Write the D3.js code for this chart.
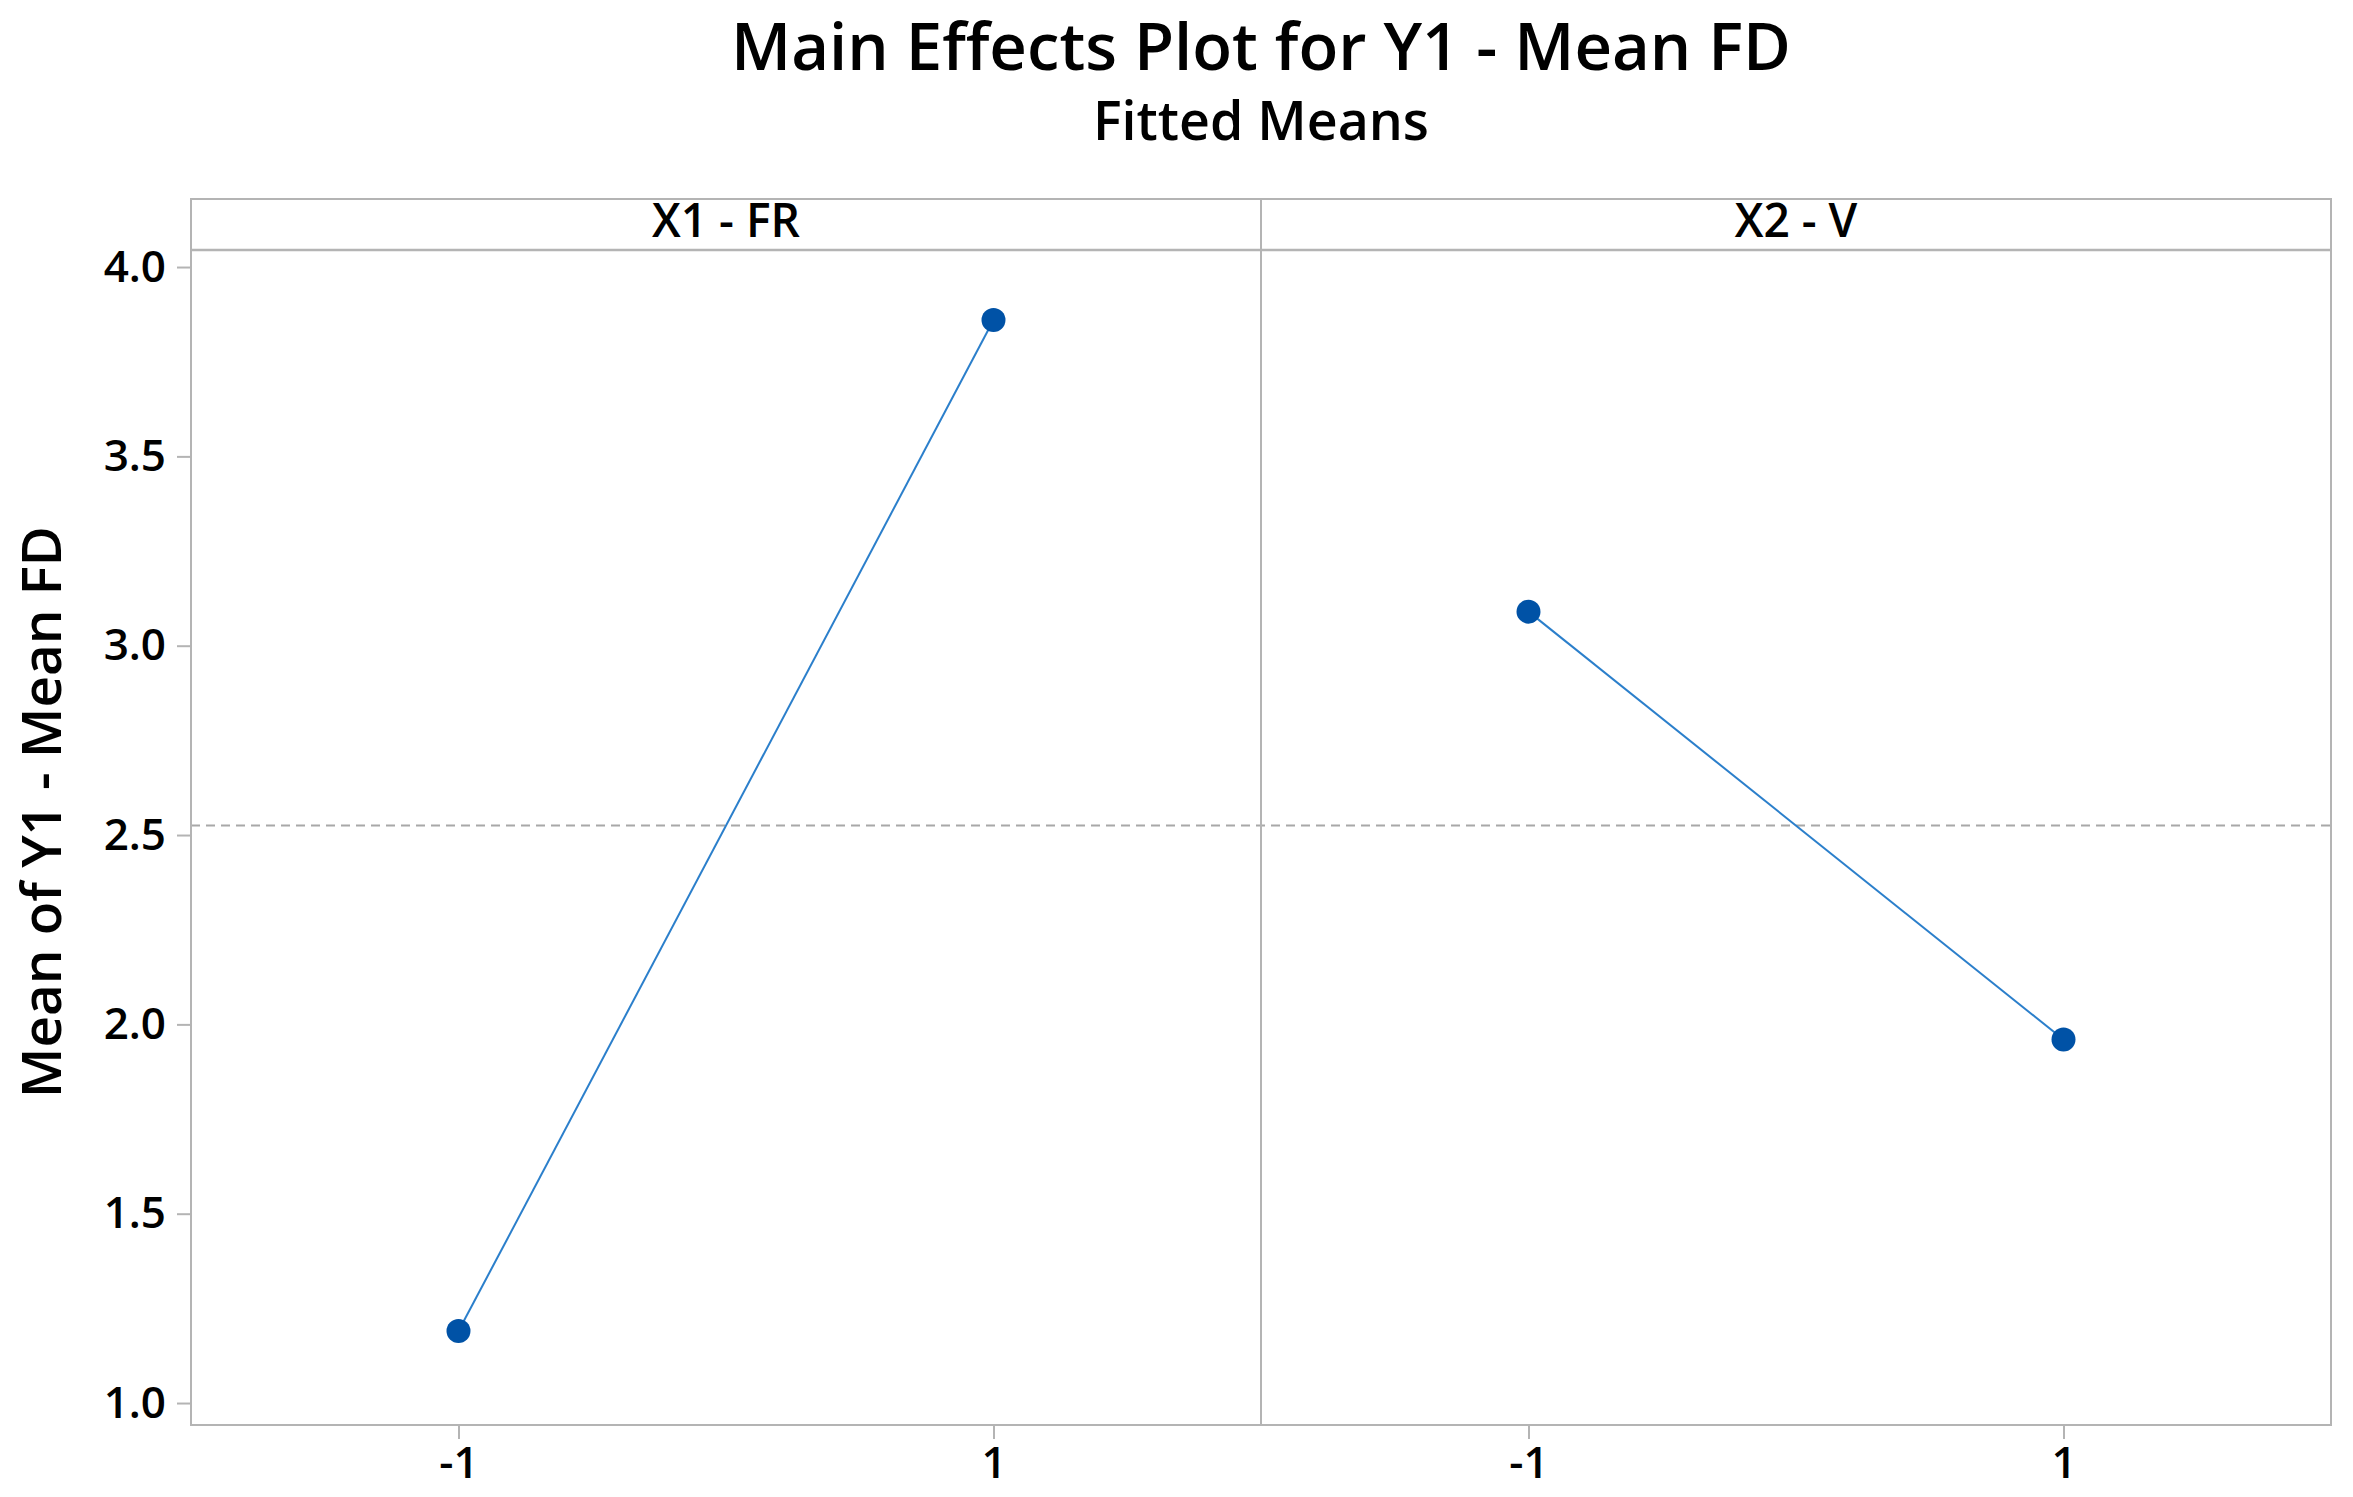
<!DOCTYPE html>
<html>
<head>
<meta charset="utf-8">
<script src="https://cdn.jsdelivr.net/npm/d3@7"></script>
<style>
  body { margin: 0; background: #fff; }
  text { font-family: "Segoe UI", "Open Sans", "Noto Sans", sans-serif; fill: #000; }
</style>
</head>
<body>
<div id="chart"></div>
<script>
// data
const factors = ["X1 - FR", "X2 - V"];
const levels = [-1, 1];
const meansX1 = [1.19, 3.86];
const meansX2 = [3.09, 1.96];
const grandMean = 2.525;
const yTicks = [1.0, 1.5, 2.0, 2.5, 3.0, 3.5, 4.0];
const series = [meansX1, meansX2];

const width = 2353, height = 1497;
const frame = {left: 191, right: 2331, top: 199, strip: 250, bottom: 1425};
const panelW = (frame.right - frame.left) / factors.length;
const midX = (frame.left + frame.right) / 2;

const svg = d3.select("#chart").append("svg")
    .attr("width", width)
    .attr("height", height);

// fit a text element to a wanted width
function fit(sel, target) {
    const len = sel.node().getComputedTextLength();
    const fs = parseFloat(sel.style("font-size"));
    sel.style("font-size", (fs * target / len) + "px");
}

svg.append("text")
    .attr("x", midX).attr("y", 70)
    .attr("text-anchor", "middle")
    .style("font-size", "66px").style("font-weight", 600)
    .text("Main Effects Plot for Y1 - Mean FD")
    .call(fit, 1060);

svg.append("text")
    .attr("x", midX).attr("y", 140)
    .attr("text-anchor", "middle")
    .style("font-size", "50px").style("font-weight", 600)
    .text("Fitted Means")
    .call(fit, 336);

var y = d3.scaleLinear()
    .domain([0.942, 4.045])
    .range([frame.bottom, frame.strip]);

var x = d3.scaleLinear()
    .domain([-2, 2])
    .range([0, panelW]);

// grand mean reference line across both panels
svg.append("line")
    .attr("x1", frame.left).attr("x2", frame.right)
    .attr("y1", y(grandMean)).attr("y2", y(grandMean))
    .style("stroke", "#a8a8a8")
    .style("stroke-width", 2)
    .style("stroke-dasharray", "9,6");

var stripSize = null;
factors.forEach(function(f, i) {
    var g = svg.append("g")
        .attr("transform", "translate(" + (frame.left + i * panelW) + ",0)");

    // panel box + strip
    g.append("rect")
        .attr("x", 0).attr("y", frame.top)
        .attr("width", panelW).attr("height", frame.bottom - frame.top)
        .style("fill", "none").style("stroke", "#b4b4b4").style("stroke-width", 2);
    g.append("line")
        .attr("x1", 0).attr("x2", panelW)
        .attr("y1", frame.strip).attr("y2", frame.strip)
        .style("stroke", "#b4b4b4").style("stroke-width", 2.5);

    var lab = g.append("text")
        .attr("x", panelW / 2).attr("y", 237)
        .attr("text-anchor", "middle")
        .style("font-size", "46px").style("font-weight", 600)
        .text(f);
    if (i == 0) { fit(lab, 148); stripSize = lab.style("font-size"); }
    else lab.style("font-size", stripSize);

    // x axis
    var ax = g.append("g")
        .attr("transform", "translate(0," + frame.bottom + ")")
        .call(d3.axisBottom(x).tickValues(levels).tickFormat(d => String(d))
            .tickSize(14).tickPadding(8));
    ax.select(".domain").remove();
    ax.selectAll("line").style("stroke", "#b4b4b4").style("stroke-width", 2);
    ax.selectAll("text").style("font-size", "44px").style("font-weight", 600)
        .style("font-family", null);

    var line = d3.line()
        .x((d, j) => x(levels[j]))
        .y(d => y(d));
    g.append("path")
        .datum(series[i])
        .attr("d", line)
        .style("fill", "none")
        .style("stroke", "#2b7fcb")
        .style("stroke-width", 2);

    g.selectAll("circle")
        .data(series[i])
        .enter()
        .append("circle")
        .attr("cx", (d, j) => x(levels[j]))
        .attr("cy", d => y(d))
        .attr("r", 12)
        .style("fill", "#0052a6");
});

// y axis on the left panel
var ay = svg.append("g")
    .attr("transform", "translate(" + frame.left + ",0)")
    .call(d3.axisLeft(y).tickValues(yTicks).tickFormat(d3.format(".1f"))
        .tickSize(14).tickPadding(11));
ay.select(".domain").remove();
ay.selectAll("line").style("stroke", "#b4b4b4").style("stroke-width", 2);
ay.selectAll("text").style("font-size", "44px").style("font-weight", 600)
    .style("font-family", null);

svg.append("text")
    .attr("transform", "translate(61,812) rotate(-90)")
    .attr("text-anchor", "middle")
    .style("font-size", "60px").style("font-weight", 600)
    .text("Mean of Y1 - Mean FD")
    .call(fit, 572);
</script>
</body>
</html>
